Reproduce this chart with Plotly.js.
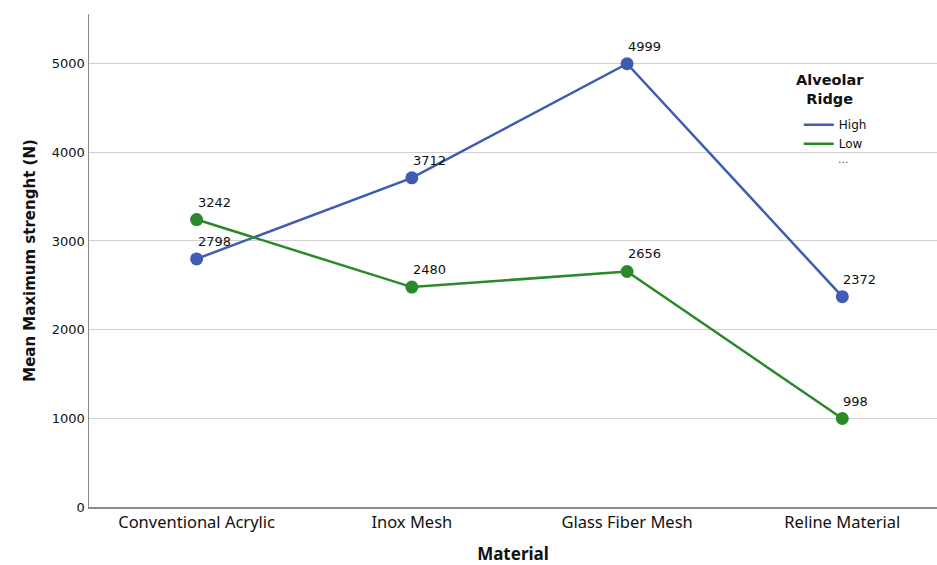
<!DOCTYPE html>
<html><head><meta charset="utf-8">
<script src="https://cdn.plot.ly/plotly-3.0.1.min.js"></script>
<style>html,body{margin:0;padding:0;background:#fff}</style>
</head><body>
<div id="chart" style="width:937px;height:565px"></div>
<script>
const materials = ["Conventional Acrylic", "Inox Mesh", "Glass Fiber Mesh", "Reline Material"];
const highValues = [2798, 3712, 4999, 2372];
const lowValues = [3242, 2480, 2656, 998];
const seriesNames = ["High", "Low"];
const legendTitle = "Alveolar<br>Ridge";
const colors = ["#3F5BB3", "#2A8A2A"];

const traces = [];
[highValues, lowValues].forEach((vals, i) => {
  traces.push({x: materials, y: vals, type: "scatter", mode: "lines", name: seriesNames[i],
    line: {color: colors[i], width: 2.5}, showlegend: true, hoverinfo: "skip"});
  traces.push({x: materials, y: vals, type: "scatter", mode: "markers", name: seriesNames[i],
    marker: {color: colors[i], size: 13}, showlegend: false});
});

const annotations = [];
[highValues, lowValues].forEach(vals => {
  vals.forEach((v, j) => annotations.push({x: materials[j], y: v, text: String(v), showarrow: false,
    xanchor: "left", yanchor: "bottom", xshift: -1, yshift: 8,
    font: {family: "DejaVu Sans", size: 13, color: "#111"}}));
});
annotations.push({xref: "paper", yref: "paper", x: 0.874, y: 0.846, text: "<b>" + legendTitle + "</b>",
  showarrow: false, xanchor: "center", yanchor: "middle", align: "center",
  font: {family: "DejaVu Sans", size: 14.5, color: "#111"}});
annotations.push({xref: "paper", yref: "paper", x: 0.890, y: 0.722, text: "...", showarrow: false,
  xanchor: "center", font: {family: "DejaVu Sans", size: 11, color: "#555"}});

const layout = {
  width: 937, height: 565,
  margin: {l: 89, r: 0, t: 14, b: 58},
  paper_bgcolor: "#fff", plot_bgcolor: "#fff",
  font: {family: "DejaVu Sans", color: "#111"},
  xaxis: {type: "category", range: [-0.5, 3.44], showgrid: false, showline: true,
    linecolor: "#8a8a8a", linewidth: 1.5, ticks: "", zeroline: false,
    tickfont: {family: "Noto Sans", size: 16.5, color: "#111"},
    title: {text: "<b>Material</b>", font: {family: "Noto Sans", size: 17, color: "#111"}, standoff: 16}},
  yaxis: {range: [0, 5560], dtick: 1000, showgrid: true, gridcolor: "#d0d0d0", gridwidth: 1,
    showline: true, linecolor: "#8a8a8a", linewidth: 1.5, zeroline: false, ticks: "",
    tickfont: {family: "DejaVu Sans", size: 13, color: "#111"},
    title: {text: "<b>Mean Maximum strenght (N)</b>", font: {family: "DejaVu Sans", size: 15, color: "#111"}, standoff: 12}},
  legend: {x: 0.837, y: 0.805, xanchor: "left", yanchor: "top", bgcolor: "rgba(0,0,0,0)",
    font: {family: "DejaVu Sans", size: 12, color: "#111"}, itemwidth: 30, tracegroupgap: 0},
  annotations: annotations,
  showlegend: true
};
Plotly.newPlot("chart", traces, layout, {displayModeBar: false, staticPlot: true});
</script>
</body></html>
